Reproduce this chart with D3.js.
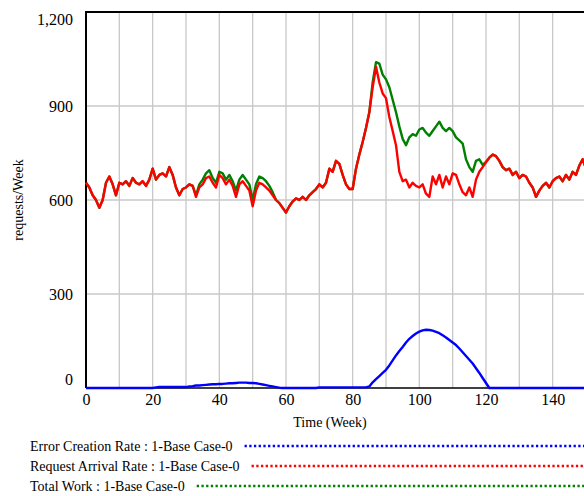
<!DOCTYPE html>
<html>
<head>
<meta charset="utf-8">
<script src="https://cdnjs.cloudflare.com/ajax/libs/d3/7.8.5/d3.min.js"></script>
<style>
  body { margin: 0; background: #fff; }
  svg { display: block; font-family: "Liberation Serif", "Times New Roman", serif; }
  svg text { font-family: "Liberation Serif", "Times New Roman", serif; }
</style>
</head>
<body>
<div id="chart"></div>
<script>
// weekly values
const weeks = d3.range(0, 151);

const requestArrival = [
  655, 640, 615, 600, 575, 600, 655, 675, 650, 615,
  655, 650, 660, 645, 670, 655, 650, 660, 645, 665,
  700, 665, 680, 685, 675, 705, 680, 640, 615, 635,
  640, 650, 645, 610, 640, 650, 670, 675, 655, 640,
  680, 670, 650, 665, 645, 610, 650, 660, 645, 630,
  580, 630, 655, 650, 640, 630, 615, 600, 590, 575,
  560, 580, 595, 605, 600, 610, 600, 615, 625, 635,
  650, 640, 655, 700, 690, 725, 715, 680, 650, 635,
  635, 700, 745, 785, 830, 880, 960, 1025, 975, 940,
  925, 865, 820, 775, 690, 660, 665, 640, 655, 645,
  640, 650, 620, 610, 675, 650, 680, 640, 675, 650,
  685, 680, 650, 625, 615, 640, 610, 665, 690, 705,
  720, 735, 745, 740, 725, 705, 695, 700, 680, 690,
  670, 680, 675, 655, 640, 610, 630, 645, 655, 640,
  660, 670, 675, 660, 680, 665, 690, 680, 710, 730,
  700
];

const totalWork = [
  655, 640, 615, 600, 575, 600, 655, 675, 650, 615,
  655, 650, 660, 645, 670, 655, 650, 660, 645, 665,
  700, 665, 680, 685, 675, 705, 680, 640, 615, 635,
  640, 650, 645, 615, 650, 665, 685, 695, 670, 655,
  690, 685, 665, 680, 660, 630, 665, 680, 665, 650,
  600, 650, 675, 670, 660, 645, 625, 600, 590, 575,
  560, 580, 595, 605, 600, 610, 600, 615, 625, 635,
  650, 640, 655, 700, 690, 725, 715, 680, 650, 635,
  635, 700, 745, 785, 830, 880, 975, 1040, 1035, 1000,
  985, 960, 920, 880, 835, 795, 775, 800, 810, 805,
  825, 830, 815, 805, 820, 835, 850, 830, 820, 830,
  820, 800, 790, 780, 730, 705, 690, 725, 730, 712,
  722, 735, 745, 740, 725, 705, 695, 700, 680, 690,
  670, 680, 675, 655, 640, 610, 630, 645, 655, 640,
  660, 670, 675, 660, 680, 665, 690, 680, 710, 730,
  700
];

const errorCreation = [
  0, 0, 0, 0, 0, 0, 0, 0, 0, 0,
  0, 0, 0, 0, 0, 0, 0, 0, 0, 0,
  0, 2, 3, 3, 3, 3, 3, 3, 3, 3,
  3, 5, 6, 8, 8, 9, 10, 11, 12, 12,
  13, 13, 14, 15, 15, 16, 17, 17, 17, 16,
  16, 15, 13, 11, 9, 7, 5, 3, 1, 0,
  0, 0, 0, 0, 0, 0, 0, 0, 0, 0,
  2, 2, 2, 2, 2, 2, 2, 2, 2, 2,
  2, 2, 2, 2, 2, 5, 18, 28, 38, 48,
  58, 72, 88, 104, 118, 131, 145, 157, 166, 174,
  180, 184, 186, 185, 183, 179, 175, 168, 161, 153,
  145, 137, 126, 114, 102, 90, 78, 63, 48, 32,
  16, 0, 0, 0, 0, 0, 0, 0, 0, 0,
  0, 0, 0, 0, 0, 0, 0, 0, 0, 0,
  0, 0, 0, 0, 0, 0, 0, 0, 0, 0,
  0
];

const yTicks = [0, 300, 600, 900, 1200];
const xTicks = [0, 20, 40, 60, 80, 100, 120, 140];

const legendLabels = [
  'Error Creation Rate : 1-Base Case-0',
  'Request Arrival Rate : 1-Base Case-0',
  'Total Work : 1-Base Case-0'
];
const legendColors = ['#0000ff', '#ff0000', '#008000'];

const config = {
  width: 584,
  height: 496,
  left: 86,
  top: 12,
  bottom: 388,
  right: 586
};
const serif = '"Liberation Serif", "Times New Roman", serif';

let svg = d3.select('#chart')
  .append('svg')
  .attr('width', config.width)
  .attr('height', config.height);

let xscale = d3.scaleLinear()
  .domain([0, 150])
  .range([config.left, config.right]);

let yscale = d3.scaleLinear()
  .domain([0, 1200])
  .range([config.bottom, config.top]);

// grid
svg.append('g')
  .selectAll('line')
  .data(d3.range(10, 151, 10))
  .enter()
  .append('line')
  .attr('x1', d => xscale(d))
  .attr('x2', d => xscale(d))
  .attr('y1', config.top)
  .attr('y2', config.bottom)
  .attr('stroke', '#c8c8c8')
  .attr('stroke-width', 1.3);

svg.append('g')
  .selectAll('line')
  .data([300, 600, 900])
  .enter()
  .append('line')
  .attr('x1', config.left)
  .attr('x2', config.width)
  .attr('y1', d => yscale(d))
  .attr('y2', d => yscale(d))
  .attr('stroke', '#c8c8c8')
  .attr('stroke-width', 1.3);

// frame
svg.append('line')
  .attr('x1', config.left).attr('x2', config.width)
  .attr('y1', config.top).attr('y2', config.top)
  .attr('stroke', '#000').attr('stroke-width', 2);
svg.append('line')
  .attr('x1', config.left).attr('x2', config.width)
  .attr('y1', config.bottom).attr('y2', config.bottom)
  .attr('stroke', '#000').attr('stroke-width', 1.5);
svg.append('line')
  .attr('x1', config.left).attr('x2', config.left)
  .attr('y1', config.top - 1).attr('y2', config.bottom)
  .attr('stroke', '#000').attr('stroke-width', 2);

// axes
let leftAxis = d3.axisLeft(yscale)
  .tickValues(yTicks)
  .tickSize(0)
  .tickPadding(13)
  .tickFormat(d3.format(','));

let yaxis = svg.append('g')
  .attr('transform', `translate(${config.left}, 0)`)
  .call(leftAxis)
  .attr('font-family', serif)
  .attr('font-size', 16);
yaxis.select('.domain').remove();
yaxis.selectAll('text')
  .attr('fill', '#000')
  .attr('dy', d => d == 0 ? '-0.2em' : (d == 1200 ? '0.75em' : '0.35em'));

let bottomAxis = d3.axisBottom(xscale)
  .tickValues(xTicks)
  .tickSize(0)
  .tickPadding(6);

let xaxis = svg.append('g')
  .attr('transform', `translate(0, ${config.bottom})`)
  .call(bottomAxis)
  .attr('font-family', serif)
  .attr('font-size', 16);
xaxis.select('.domain').remove();
xaxis.selectAll('text')
  .attr('fill', '#000');

svg.append('text')
  .attr('x', 330)
  .attr('y', 427)
  .attr('text-anchor', 'middle')
  .style('font-size', '14px')
  .text('Time (Week)');

svg.append('text')
  .attr('transform', 'translate(23, 200) rotate(-90)')
  .attr('text-anchor', 'middle')
  .style('font-size', '14px')
  .text('requests/Week');

// series
let line = d3.line()
  .x((d, i) => xscale(weeks[i]))
  .y(d => yscale(d));

let plot = svg.append('g');

[[errorCreation, '#0000ff'], [totalWork, '#008000'], [requestArrival, '#ff0000']]
  .forEach(([values, color]) => {
    plot.append('path')
      .datum(values)
      .attr('d', line)
      .attr('fill', 'none')
      .attr('stroke', color)
      .attr('stroke-width', 2.4)
      .attr('stroke-linejoin', 'round');
  });

// legend
let legend = svg.selectAll('.legendRow')
  .data(legendLabels)
  .enter()
  .append('g')
  .attr('class', 'legendRow')
  .attr('transform', (d, i) => `translate(0, ${446 + i * 20})`);

legend.append('text')
  .attr('x', 30)
  .attr('y', 5)
  .style('font-size', '14px')
  .text(d => d);

legend.each(function (d, i) {
  let row = d3.select(this);
  let textEnd = 30 + row.select('text').node().getComputedTextLength();
  row.append('line')
    .attr('x1', textEnd + 12)
    .attr('x2', config.width)
    .attr('y1', 0)
    .attr('y2', 0)
    .attr('stroke', legendColors[i])
    .attr('stroke-width', 2.5)
    .attr('stroke-dasharray', '2.3,2.4');
});
</script>
</body>
</html>
